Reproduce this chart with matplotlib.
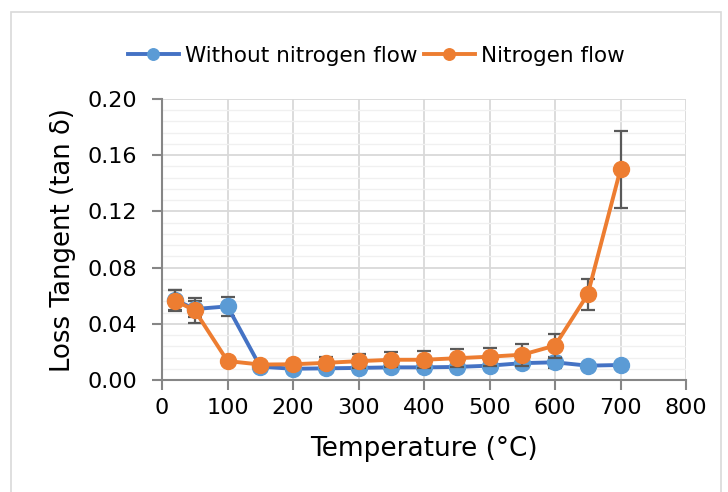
import matplotlib
matplotlib.use("Agg")
import matplotlib.pyplot as plt
from matplotlib.ticker import MultipleLocator, FormatStrFormatter
from matplotlib.patches import Rectangle

# Temperature steps (°C)
temperature = [20, 50, 100, 150, 200, 250, 300, 350, 400, 450, 500, 550, 600, 650, 700]

# Loss tangent without nitrogen flow
tan_no_n2 = [0.057, 0.0505, 0.0524, 0.0095, 0.0080, 0.0083, 0.0086, 0.0090,
             0.0090, 0.0093, 0.0102, 0.0120, 0.0126, 0.0102, 0.0107]
err_no_n2 = [0.007, 0.006, 0.0068, 0.0015, 0.0015, 0.0015, 0.0015, 0.0015,
             0.0015, 0.0015, 0.002, 0.0025, 0.004, 0.0015, 0.0015]

# Loss tangent with nitrogen flow
tan_n2 = [0.0565, 0.0495, 0.0135, 0.0110, 0.0112, 0.0122, 0.0134, 0.0144,
          0.0144, 0.0155, 0.0166, 0.0180, 0.0245, 0.0610, 0.1500]
err_n2 = [0.0075, 0.009, 0.0015, 0.0015, 0.0025, 0.004, 0.005, 0.0055,
          0.006, 0.0063, 0.0065, 0.0078, 0.0085, 0.011, 0.0275]

x_ticks = [0, 100, 200, 300, 400, 500, 600, 700, 800]
y_ticks = [0.00, 0.04, 0.08, 0.12, 0.16, 0.20]

BLUE_LINE = "#4472C4"
BLUE_MARK = "#5B9BD5"
ORANGE = "#ED7D31"
ERR = "#595959"
AXIS = "#868686"

plt.rcParams["font.family"] = ["DejaVu Sans"]

fig = plt.figure(figsize=(7.28, 4.92), dpi=100)
fig.patches.append(Rectangle((11 / 728, -0.05), 710 / 728, 1.05 - 12 / 492,
                             transform=fig.transFigure, fill=False,
                             edgecolor="#D9D9D9", linewidth=1.2))

ax = fig.add_axes([162 / 728, (492 - 380) / 492, (686 - 162) / 728, (380 - 99) / 492])

ax.errorbar(temperature, tan_no_n2, yerr=err_no_n2, fmt="none", ecolor=ERR,
            elinewidth=1.6, capsize=5, capthick=1.6, zorder=3)
ax.plot(temperature, tan_no_n2, color=BLUE_LINE, linewidth=2.8, marker="o",
        markersize=11.5, markerfacecolor=BLUE_MARK, markeredgecolor=BLUE_MARK,
        label="Without nitrogen flow", zorder=4)
ax.errorbar(temperature, tan_n2, yerr=err_n2, fmt="none", ecolor=ERR,
            elinewidth=1.6, capsize=5, capthick=1.6, zorder=5)
ax.plot(temperature, tan_n2, color=ORANGE, linewidth=2.8, marker="o",
        markersize=11.5, markerfacecolor=ORANGE, markeredgecolor=ORANGE,
        label="Nitrogen flow", zorder=6)

ax.set_xlim(0, 800)
ax.set_ylim(0, 0.20)
ax.set_xticks(x_ticks)
ax.set_yticks(y_ticks)
ax.yaxis.set_major_formatter(FormatStrFormatter("%.2f"))
ax.yaxis.set_minor_locator(MultipleLocator(0.008))

ax.grid(which="major", color="#D9D9D9", linewidth=1.3, zorder=0)
ax.grid(which="minor", axis="y", color="#F0F0F0", linewidth=1.0, zorder=0)
ax.set_axisbelow(True)

for side in ("top", "right"):
    ax.spines[side].set_visible(False)
for side in ("left", "bottom"):
    ax.spines[side].set_color(AXIS)
    ax.spines[side].set_linewidth(1.5)

ax.tick_params(which="major", direction="out", length=7, width=1.5, color=AXIS,
               labelsize=16)
ax.tick_params(axis="y", which="major", pad=11)
ax.tick_params(axis="x", which="major", pad=6)
ax.tick_params(which="minor", length=0)

ax.set_xlabel("Temperature (°C)", fontsize=19, labelpad=13)
ax.set_ylabel("Loss Tangent (tan δ)", fontsize=18.7, labelpad=8)

fig.legend(*ax.get_legend_handles_labels(), loc="center",
           bbox_to_anchor=(376 / 728, 1 - 56 / 492), ncol=2, frameon=False,
           fontsize=15.5, handlelength=2.4, handletextpad=0.25, columnspacing=0.3,
           markerscale=0.72, borderaxespad=0)

fig.savefig("out.png", dpi=100)
